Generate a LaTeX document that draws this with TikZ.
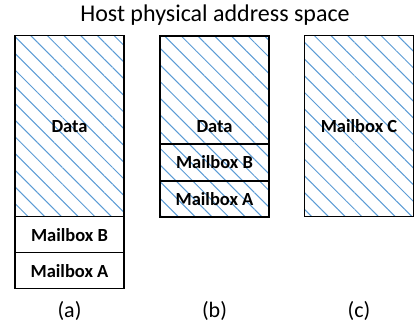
\documentclass[tikz,border=0pt]{standalone}
\usepackage{fontspec}
\setmainfont{Carlito}
\usepackage{xcolor}
\usetikzlibrary{positioning}
\usetikzlibrary{patterns.meta}
\definecolor{hatchblue}{RGB}{91,155,213}

\begin{document}
\begin{tikzpicture}[x=1pt,y=-1pt,
block/.style={draw,line width=1.1pt,minimum width=109pt,outer sep=0pt,inner sep=0pt,
  font=\fontsize{18.5}{20}\selectfont\bfseries},
hatched/.style={pattern={Lines[angle=-45,distance=11.8pt,line width=1pt]},pattern color=hatchblue},
caption/.style={font=\fontsize{22}{26}\selectfont}]
\useasboundingbox (0,0) rectangle (414,322);

\node[anchor=base,font=\fontsize{24}{28}\selectfont] (title) at (215,21.7) {Host physical address space};

% (a)
\node[block,hatched,minimum height=181pt] (aData) at (69.5,126.3) {Data};
\node[block,minimum height=36pt,below=0pt of aData] (aMbB) {Mailbox B};
\node[block,minimum height=36pt,below=0pt of aMbB] (aMbA) {Mailbox A};

% (b)
\node[block,hatched,minimum height=108pt] (bData) at (214.5,90) {};
\node[font=\fontsize{18.5}{20}\selectfont\bfseries] (bDataText) at ([yshift=17pt]bData.south) {Data};
\node[block,hatched,minimum height=37pt,below=0pt of bData] (bMbB) {Mailbox B};
\node[block,hatched,minimum height=36pt,below=0pt of bMbB] (bMbA) {Mailbox A};

% (c)
\node[block,hatched,minimum height=181pt] (cMbC) at (359,126.3) {Mailbox C};

\node[caption] (aCap) at (69.5,311) {(a)};
\node[caption] (bCap) at (214.5,311) {(b)};
\node[caption] (cCap) at (359,311) {(c)};
\end{tikzpicture}
\end{document}
